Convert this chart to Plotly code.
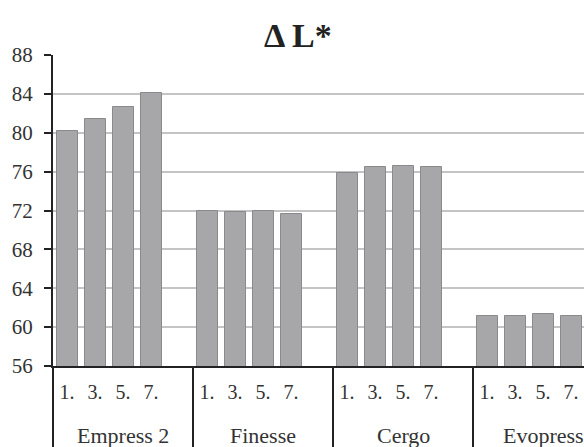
import plotly.graph_objects as go

# ΔL* per material, measured at four time points
groups = ["Empress 2", "Finesse", "Cergo", "Evopress"]
time_labels = ["1.", "3.", "5.", "7."]
empress2 = [80.2, 81.45, 82.7, 84.05]
finesse = [71.9, 71.85, 71.9, 71.6]
cergo = [75.85, 76.45, 76.6, 76.5]
evopress = [61.1, 61.15, 61.35, 61.15]
y_ticks = [56, 60, 64, 68, 72, 76, 80, 84, 88]

series = [empress2, finesse, cergo, evopress]
slots_per_group = 5  # four bars plus one empty slot between groups

xs, ys, tick_x, tick_text = [], [], [], []
for g, vals in enumerate(series):
    for i, v in enumerate(vals):
        pos = g * slots_per_group + i + 0.5
        xs.append(pos)
        ys.append(v)
        tick_x.append(pos)
        tick_text.append(time_labels[i])

W, H = 584, 447
ml, mr, mt, mb = 53, 0, 55, 81
plot_w = W - ml - mr
plot_h = H - mt - mb
slot_px = 28
x_max = plot_w / slot_px

serif = "Liberation Serif"

fig = go.Figure(
    go.Bar(
        x=xs,
        y=ys,
        width=0.75,
        marker=dict(color="#a7a7a9", line=dict(color="#8a8a8c", width=1)),
        hoverinfo="y",
    )
)

shapes = [
    # y-axis line continued through the category band
    dict(type="line", xref="paper", yref="paper", x0=0, x1=0,
         y0=-mb / plot_h, y1=0, line=dict(color="#222", width=2)),
]
for g in range(1, len(groups)):
    xg = g * slots_per_group
    shapes.append(dict(type="line", xref="x", yref="paper", x0=xg, x1=xg,
                       y0=-mb / plot_h, y1=0, line=dict(color="#222", width=2)))

annotations = []
for g, name in enumerate(groups):
    annotations.append(dict(
        x=g * slots_per_group + 2.5, xref="x",
        y=-69 / plot_h, yref="paper",
        text=name, showarrow=False, yanchor="middle", xanchor="center",
        font=dict(family=serif, size=22, color="#333"),
    ))

fig.update_layout(
    width=W, height=H,
    margin=dict(l=ml, r=mr, t=mt, b=mb),
    paper_bgcolor="white", plot_bgcolor="white",
    showlegend=False,
    bargap=0,
    title=dict(text="<b>Δ L*</b>", x=0.51, xanchor="center",
               y=1 - 35 / H, yanchor="middle", yref="container",
               font=dict(family=serif, size=34, color="#222")),
    xaxis=dict(
        range=[0, x_max], tickvals=tick_x, ticktext=tick_text,
        ticks="", showgrid=False, zeroline=False,
        showline=True, linecolor="#222", linewidth=2,
        tickfont=dict(family=serif, size=20, color="#333"),
        ticklabelstandoff=7,
        fixedrange=True,
    ),
    yaxis=dict(
        range=[56, 88], tickvals=y_ticks,
        ticks="outside", ticklen=7, tickwidth=2, tickcolor="#222",
        showline=True, linecolor="#222", linewidth=2,
        showgrid=True, gridcolor="#c4c4c4", gridwidth=2,
        zeroline=False,
        tickfont=dict(family=serif, size=21, color="#333"),
        ticklabelstandoff=7,
        fixedrange=True,
    ),
    shapes=shapes,
    annotations=annotations,
)

fig.write_html("out.html")
